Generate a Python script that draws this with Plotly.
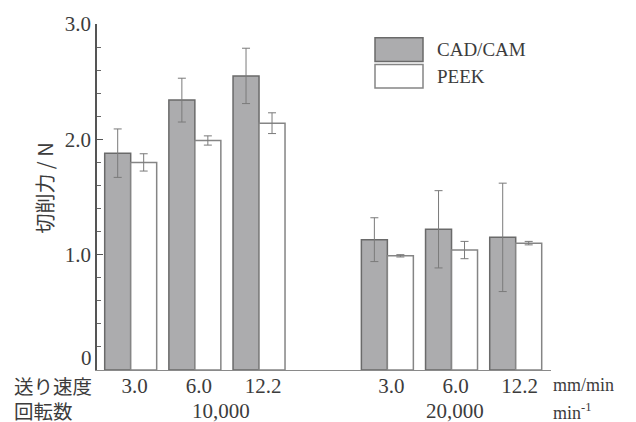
import plotly.graph_objects as go

# Cutting force by feed rate, grouped by spindle speed
feed_rates = ["3.0", "6.0", "12.2"]          # mm/min
spindle_speeds = ["10,000", "20,000"]        # min^-1
cadcam_force = [1.88, 2.34, 2.55, 1.13, 1.22, 1.15]
cadcam_sd = [0.21, 0.19, 0.24, 0.19, 0.335, 0.47]
peek_force = [1.80, 1.99, 2.14, 0.99, 1.04, 1.10]
peek_sd = [0.075, 0.04, 0.09, 0.01, 0.075, 0.015]
y_ticks = [1.0, 2.0, 3.0]

# x slots: each spindle-speed group, with one empty slot between groups
n = len(feed_rates)
xpos = [g * (n + 1) + i for g in range(len(spindle_speeds)) for i in range(n)]
xlabels = feed_rates * len(spindle_speeds)
group_mid = [g * (n + 1) + (n - 1) / 2 for g in range(len(spindle_speeds))]

ink = "#3c3c3c"
serif = "Liberation Serif, Times New Roman, serif"
gothic = "Noto Sans CJK JP, sans-serif"

fig = go.Figure()
fig.add_trace(go.Bar(
    x=xpos, y=cadcam_force, name="CAD/CAM",
    marker=dict(color="#acacae", line=dict(color="#6a6a6a", width=1.5)),
    error_y=dict(type="data", array=cadcam_sd, color="#7a7a7a", thickness=1, width=4),
))
fig.add_trace(go.Bar(
    x=xpos, y=peek_force, name="PEEK",
    marker=dict(color="#ffffff", line=dict(color="#858585", width=1.5)),
    error_y=dict(type="data", array=peek_sd, color="#7a7a7a", thickness=1, width=4),
))

fig.update_layout(
    width=636, height=422,
    margin=dict(l=97, r=85, t=19, b=52),
    paper_bgcolor="white", plot_bgcolor="white",
    barmode="group", bargap=0.19, bargroupgap=0,
    showlegend=False,
    font=dict(family=serif, color=ink, size=20),
)

fig.update_xaxes(
    range=[-0.525, 6.55], tickvals=xpos, ticktext=xlabels,
    showline=True, linecolor="#8a8a8a", linewidth=1.2,
    showgrid=False, zeroline=False, ticks="",
    tickfont=dict(family=serif, size=21, color=ink),
    ticklabelshift=4, ticklabelstandoff=-3,
)
fig.update_yaxes(
    range=[0, 3.0], tickvals=y_ticks, ticktext=[f"{v:.1f}" for v in y_ticks],
    showline=True, linecolor="#555555", linewidth=1.5,
    showgrid=False, zeroline=False,
    ticks="inside", ticklen=6, tickcolor="#555555", tickwidth=1.2,
    minor=dict(ticks="inside", dtick=0.2, ticklen=4, tickcolor="#666666", tickwidth=1),
    tickfont=dict(family=serif, size=21, color=ink),
)

ann = []
# axis title, rotated
ann.append(dict(x=0, y=(370 - 186) / 351, xref="paper", yref="paper", text="切削力 / N",
                showarrow=False, textangle=-90, xanchor="center", yanchor="middle",
                xshift=-52, font=dict(family=gothic, size=20, color=ink)))
# zero label sits slightly above the baseline
ann.append(dict(x=0, y=0, xref="paper", yref="y", text="0", showarrow=False,
                xanchor="right", yanchor="middle", xshift=-3, yshift=12,
                font=dict(family=serif, size=21, color=ink)))
# spindle speed row
speed_shift = [26, 3]
for mid, lab, sh in zip(group_mid, spindle_speeds, speed_shift):
    ann.append(dict(x=mid, y=0, xref="x", yref="paper", text=lab, showarrow=False,
                    xanchor="center", yanchor="middle", xshift=sh, yshift=-41,
                    font=dict(family=serif, size=21, color=ink)))
# row headers (feed rate / spindle speed)
ann.append(dict(x=0, y=0, xref="paper", yref="paper", text="送り速度<br>回転数",
                showarrow=False, xanchor="left", yanchor="middle", align="left",
                xshift=-85, yshift=-28, font=dict(family=gothic, size=19.5, color=ink)))
# units
for txt, ys in [("mm/min", -15), ("min<sup>-1</sup>", -41)]:
    ann.append(dict(x=1, y=0, xref="paper", yref="paper", text=txt, showarrow=False,
                    xanchor="left", yanchor="middle", xshift=0, yshift=ys,
                    font=dict(family=serif, size=18, color=ink)))

# legend swatches and labels
legend_items = [("CAD/CAM", "#acacae", "#6a6a6a"), ("PEEK", "#ffffff", "#858585")]
shapes = []
x0 = (375 - 97) / 454
x1 = (423 - 97) / 454
for k, (lab, fill, edge) in enumerate(legend_items):
    top = 33 + k * 27
    y_top = (370 - top) / 351
    y_bot = (370 - top - 24) / 351
    shapes.append(dict(type="rect", xref="paper", yref="paper", x0=x0, x1=x1,
                       y0=y_bot, y1=y_top, fillcolor=fill,
                       line=dict(color=edge, width=1.5)))
    ann.append(dict(x=(435 - 97) / 454, y=(y_top + y_bot) / 2, xref="paper", yref="paper",
                    text=lab, showarrow=False, xanchor="left", yanchor="middle",
                    font=dict(family=serif, size=19, color=ink)))

fig.update_layout(annotations=ann, shapes=shapes)
fig.write_html("out.html")
